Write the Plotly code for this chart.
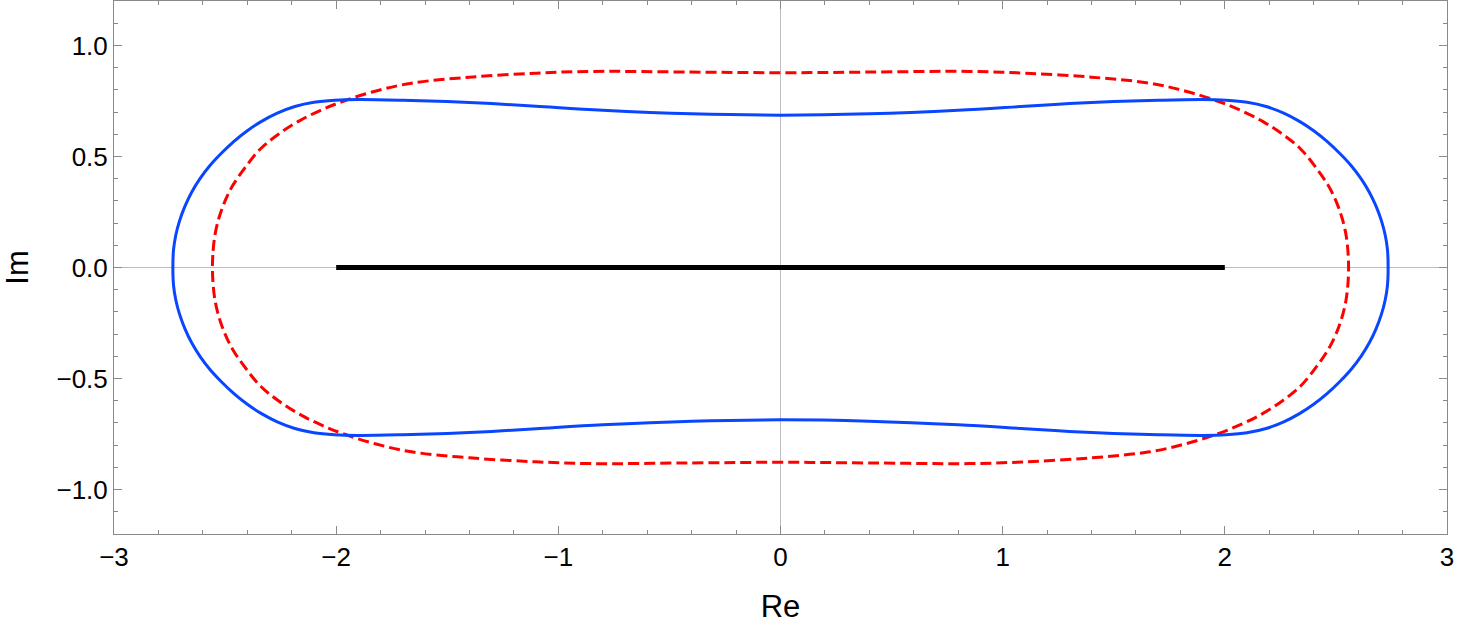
import plotly.graph_objects as go

# Blue solid closed curve: upper half left->right, then lower half right->left
blue_x = [-2.735, -2.732, -2.722, -2.705, -2.681, -2.651, -2.613, -2.569, -2.519, -2.46,
          -2.40, -2.336, -2.265, -2.186, -2.10, -2.006, -1.9, -1.7, -1.5, -1.3, -1.1, -0.8,
          -0.4, 0.0, 0.4, 0.8, 1.1, 1.3, 1.5, 1.7, 1.9, 2.006, 2.10, 2.186, 2.265, 2.336,
          2.40, 2.46, 2.519, 2.569, 2.613, 2.651, 2.681, 2.705, 2.722, 2.732, 2.735,
          2.732, 2.722, 2.705, 2.681, 2.651, 2.613, 2.569, 2.519, 2.46, 2.40, 2.336,
          2.265, 2.186, 2.10, 2.006, 1.9, 1.7, 1.5, 1.3, 1.1, 0.8, 0.4, 0.0, -0.4, -0.8,
          -1.1, -1.3, -1.5, -1.7, -1.9, -2.006, -2.10, -2.186, -2.265, -2.336, -2.40, -2.46,
          -2.519, -2.569, -2.613, -2.651, -2.681, -2.705, -2.722, -2.732, -2.735]
blue_y = [0.0, 0.08, 0.145, 0.21, 0.275, 0.338, 0.40, 0.458, 0.512, 0.568,
          0.616, 0.658, 0.695, 0.725, 0.744, 0.753, 0.756, 0.753, 0.747, 0.738, 0.726, 0.708,
          0.692, 0.686, 0.692, 0.708, 0.726, 0.738, 0.747, 0.753, 0.756, 0.753, 0.744, 0.725,
          0.695, 0.658, 0.616, 0.568, 0.512, 0.458, 0.40, 0.338, 0.275, 0.21, 0.145, 0.08,
          0.0,
          -0.08, -0.145, -0.21, -0.275, -0.338, -0.40, -0.458, -0.512, -0.568, -0.616,
          -0.658, -0.695, -0.725, -0.744, -0.753, -0.756, -0.753, -0.747, -0.738, -0.726,
          -0.708, -0.692, -0.686, -0.692, -0.708, -0.726, -0.738, -0.747, -0.753, -0.756,
          -0.753, -0.744, -0.725, -0.695, -0.658, -0.616, -0.568, -0.512, -0.458, -0.40,
          -0.338, -0.275, -0.21, -0.145, -0.08, 0.0]

# Red dashed closed curve
red_x = [-2.557, -2.554, -2.545, -2.527, -2.50, -2.465, -2.41, -2.34, -2.26, -2.17, -2.07,
         -1.962, -1.82, -1.661, -1.4, -1.1, -0.85, -0.4, 0.0, 0.4, 0.85, 1.1, 1.4, 1.661,
         1.82, 1.962, 2.07, 2.17, 2.26, 2.34, 2.41, 2.465, 2.50, 2.527, 2.545, 2.554, 2.557,
         2.554, 2.545, 2.527, 2.50, 2.465, 2.41, 2.34, 2.26, 2.17, 2.07, 1.962, 1.82, 1.661,
         1.4, 1.1, 0.85, 0.4, 0.0, -0.4, -0.85, -1.1, -1.4, -1.661, -1.82, -1.962, -2.07,
         -2.17, -2.26, -2.34, -2.41, -2.465, -2.50, -2.527, -2.545, -2.554, -2.557]
red_y = [0.0, 0.075, 0.15, 0.225, 0.30, 0.37, 0.45, 0.535, 0.600, 0.658, 0.708,
         0.751, 0.795, 0.830, 0.857, 0.875, 0.883, 0.880, 0.877, 0.880, 0.883, 0.875, 0.857,
         0.830, 0.795, 0.751, 0.708, 0.658, 0.600, 0.535, 0.45, 0.37, 0.30, 0.225, 0.15,
         0.075, 0.0,
         -0.075, -0.15, -0.225, -0.30, -0.37, -0.45, -0.535, -0.600, -0.658, -0.708, -0.751,
         -0.795, -0.830, -0.857, -0.875, -0.883, -0.880, -0.877, -0.880, -0.883, -0.875,
         -0.857, -0.830, -0.795, -0.751, -0.708, -0.658, -0.600, -0.535, -0.45, -0.37,
         -0.30, -0.225, -0.15, -0.075, 0.0]

# Black segment on the real axis
seg_x = [-2.0, 2.0]
seg_y = [0.0, 0.0]

x_ticks = [-3, -2, -1, 0, 1, 2, 3]
y_ticks = [-1.0, -0.5, 0.0, 0.5, 1.0]

fig = go.Figure()
fig.add_trace(go.Scatter(x=red_x, y=red_y, mode="lines",
                         line=dict(color="#ff0000", width=3, dash="11px,5px", shape="spline"),
                         hoverinfo="skip", showlegend=False))
fig.add_trace(go.Scatter(x=blue_x, y=blue_y, mode="lines",
                         line=dict(color="#0a46ff", width=3, shape="spline"),
                         hoverinfo="skip", showlegend=False))
fig.add_trace(go.Scatter(x=seg_x, y=seg_y, mode="lines",
                         line=dict(color="black", width=5),
                         hoverinfo="skip", showlegend=False))

frame = "#8a8a8a"
font = dict(family="Liberation Sans, Arial, sans-serif", size=26, color="black")

fig.update_layout(
    width=1459, height=632,
    margin=dict(l=114, r=12, t=1, b=98),
    paper_bgcolor="white", plot_bgcolor="white",
    font=font,
    xaxis=dict(range=[-3, 3], tickvals=x_ticks, ticks="inside", ticklen=8, tickcolor=frame,
               tickwidth=1, showline=True, linecolor=frame, linewidth=1, mirror="ticks",
               showgrid=False, zeroline=True, zerolinecolor="#bdbdbd", zerolinewidth=1,
               minor=dict(dtick=0.2, ticks="inside", ticklen=4, tickcolor=frame, showgrid=False),
               title=dict(text="Re", standoff=24), tickfont=font, ticklabelstandoff=0),
    yaxis=dict(range=[-1.2, 1.2], tickvals=y_ticks, tickformat=".1f", ticks="inside",
               ticklen=8, tickcolor=frame, tickwidth=1, showline=True, linecolor=frame,
               linewidth=1, mirror="ticks", showgrid=False, zeroline=True,
               zerolinecolor="#bdbdbd", zerolinewidth=1,
               minor=dict(dtick=0.1, ticks="inside", ticklen=4, tickcolor=frame, showgrid=False),
               title=dict(text="Im", standoff=19), tickfont=font),
)

fig.write_html("out.html")
